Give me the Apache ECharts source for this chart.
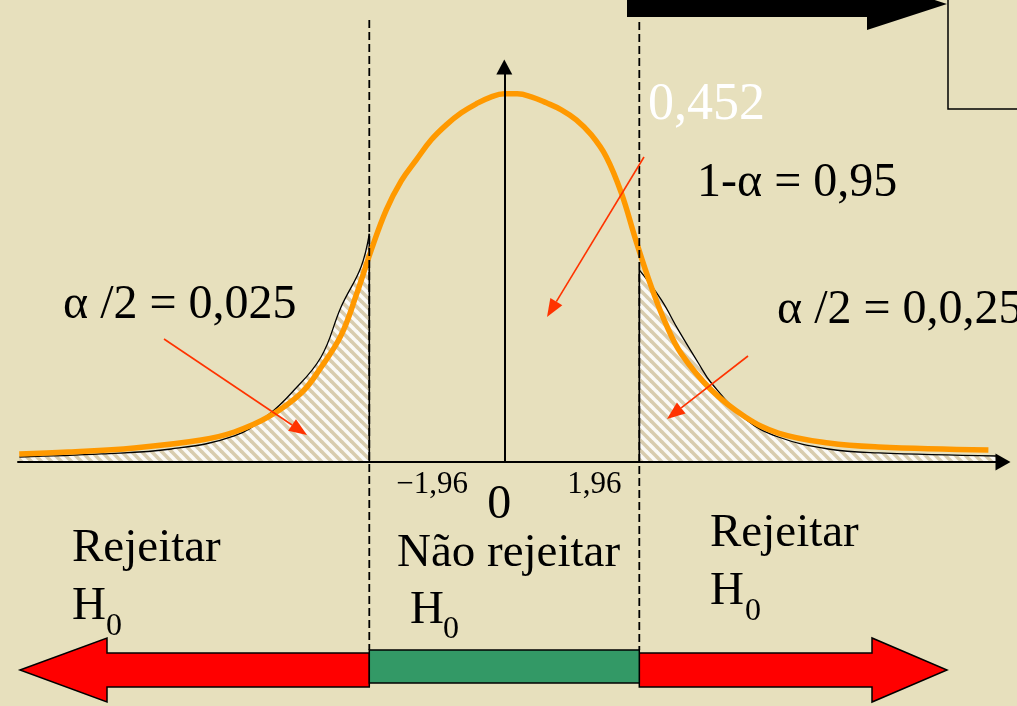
<!DOCTYPE html>
<html>
<head>
<meta charset="utf-8">
<script src="https://cdn.jsdelivr.net/npm/echarts@6/dist/echarts.min.js"></script>
<style>
  html, body { margin: 0; padding: 0; background: #e7e0bd; }
  #chart { width: 1017px; height: 706px; }
</style>
</head>
<body>
<div id="chart"></div>
<script>
// Critical values of the two-sided test (alpha = 0.05)
const Z_CRIT = [-1.96, 1.96];

// Sketched density curve (orange)
const CURVE_Z = [-7.042, -6.331, -5.372, -4.400, -3.920, -3.427, -2.948, -2.657, -2.367,
                 -2.149, -1.931, -1.713, -1.496, -1.278, -1.060, -0.842, -0.624, -0.407, -0.189, 0,
                 0.189, 0.392, 0.610, 0.828, 1.045, 1.263, 1.481, 1.699, 1.917, 2.135, 2.352, 2.570,
                 3.006, 3.499, 3.978, 4.705, 5.431, 7.028];
const CURVE_DENSITY = [0.0087, 0.0108, 0.0152, 0.0238, 0.0325, 0.0488, 0.0748, 0.1030, 0.1377,
                       0.1810, 0.2298, 0.2732, 0.3046, 0.3274, 0.3491, 0.3653, 0.3783, 0.3881, 0.3957, 0.3989,
                       0.3989, 0.3957, 0.3892, 0.3816, 0.3707, 0.3545, 0.3306, 0.2916, 0.2385, 0.1897, 0.1485, 0.1171,
                       0.0780, 0.0488, 0.0314, 0.0206, 0.0163, 0.0130];

// Rejection tails (thin black outline, hatched)
const LEFT_TAIL_Z = [-7.04, -5.85, -4.835, -3.92, -3.43, -3.09, -2.66, -2.37, -2.08, -1.96];
const LEFT_TAIL_DENSITY = [0.0054, 0.0087, 0.0141, 0.0282, 0.0509, 0.0748, 0.1138, 0.168, 0.2114, 0.2472];
const RIGHT_TAIL_Z = [1.96, 2.28, 2.526, 2.817, 3.006, 3.499, 3.978, 4.705, 5.431, 7.144];
const RIGHT_TAIL_DENSITY = [0.2081, 0.1756, 0.1431, 0.1073, 0.0856, 0.0466, 0.0271, 0.0141, 0.0098, 0.0065];

// Axis tick labels
const TICK_VALUES = [-1.96, 0, 1.96];
const TICK_LABELS = ['\u22121,96', '0', '1,96'];

// Annotation texts
const ALPHA_LEFT = '\u03b1 /2 = 0,025';
const ALPHA_RIGHT = '\u03b1 /2 = 0,0,25';
const CONF_TEXT = '1-\u03b1 = 0,95';
const PEAK_TEXT = '0,452';
const REJECT = 'Rejeitar';
const ACCEPT = 'N\u00e3o rejeitar';
const H = 'H';
const SUB = '0';

const SERIF = '"Liberation Serif", "Times New Roman", serif';
const RED = '#ff3300';

function pairs(xs, ys) { return xs.map((x, i) => [x, ys[i]]); }

// White tile with tan diagonal stripes for the tail areas
function hatchTile() {
  const c = document.createElement('canvas');
  c.width = 10; c.height = 10;
  const g = c.getContext('2d');
  g.fillStyle = '#fbfaf6';
  g.fillRect(0, 0, 10, 10);
  g.strokeStyle = '#d8ccae';
  g.lineWidth = 3.6;
  for (const o of [-10, 0, 10]) {
    g.beginPath();
    g.moveTo(o - 1, -1);
    g.lineTo(o + 11, 11);
    g.stroke();
  }
  return c;
}

const chart = echarts.init(document.getElementById('chart'), null, { renderer: 'canvas' });
const hatch = { image: hatchTile(), repeat: 'repeat' };

chart.setOption({
  backgroundColor: '#e7e0bd',
  animation: false,
  grid: { left: 18, top: 67, right: 14, bottom: 244 },
  xAxis: {
    type: 'value', min: -7.06, max: 7.24, z: 5,
    axisLine: { onZero: true, symbol: ['none', 'triangle'], symbolSize: [17, 15], lineStyle: { color: '#000', width: 2 } },
    axisTick: { show: false }, axisLabel: { show: false }, splitLine: { show: false }
  },
  yAxis: {
    type: 'value', min: 0, max: 0.428, z: 5,
    axisLine: { onZero: true, symbol: ['none', 'triangle'], symbolSize: [16, 15], lineStyle: { color: '#000', width: 2 } },
    axisTick: { show: false }, axisLabel: { show: false }, splitLine: { show: false }
  },
  series: [
    {
      type: 'line', name: 'left tail', data: pairs(LEFT_TAIL_Z, LEFT_TAIL_DENSITY),
      smooth: 0.4, symbol: 'none', z: 2,
      lineStyle: { color: '#000', width: 1.3 },
      areaStyle: { color: hatch, opacity: 1 }
    },
    {
      type: 'line', name: 'right tail', data: pairs(RIGHT_TAIL_Z, RIGHT_TAIL_DENSITY),
      smooth: 0.4, symbol: 'none', z: 2,
      lineStyle: { color: '#000', width: 1.3 },
      areaStyle: { color: hatch, opacity: 1 }
    },
    {
      type: 'line', name: 'left edge', symbol: 'none', z: 3,
      data: [[Z_CRIT[0], 0], [Z_CRIT[0], LEFT_TAIL_DENSITY[LEFT_TAIL_DENSITY.length - 1]]],
      lineStyle: { color: '#000', width: 1.6 }
    },
    {
      type: 'line', name: 'right edge', symbol: 'none', z: 3,
      data: [[Z_CRIT[1], 0], [Z_CRIT[1], RIGHT_TAIL_DENSITY[0]]],
      lineStyle: { color: '#000', width: 1.6 }
    },
    {
      type: 'line', name: 'density', data: pairs(CURVE_Z, CURVE_DENSITY),
      smooth: 0.4, symbol: 'none', z: 4,
      lineStyle: { color: '#ff9900', width: 5.5 }
    }
  ]
});

// Pixel helpers derived from the chart's own scales
const px = (z) => chart.convertToPixel({ gridIndex: 0 }, [z, 0])[0];
const baseY = chart.convertToPixel({ gridIndex: 0 }, [0, 0])[1];
const xL = px(Z_CRIT[0]);
const xR = px(Z_CRIT[1]);

function text(str, x, baseline, size, fill) {
  // 'middle' sits about 0.3375em above the alphabetic baseline for this face
  return {
    type: 'text', z: 20,
    style: { text: str, x: x, y: baseline - 0.3375 * size, font: size + 'px ' + SERIF,
             fill: fill || '#000', align: 'left', verticalAlign: 'middle' }
  };
}

function arrow(x1, y1, x2, y2, color) {
  const len = Math.hypot(x2 - x1, y2 - y1);
  const ux = (x2 - x1) / len, uy = (y2 - y1) / len;
  const L = 18, W = 7;
  const bx = x2 - ux * L, by = y2 - uy * L;
  return [
    { type: 'line', z: 15, shape: { x1: x1, y1: y1, x2: bx, y2: by }, style: { stroke: color, lineWidth: 1.6 } },
    { type: 'polygon', z: 15, shape: { points: [[x2, y2], [bx - uy * W, by + ux * W], [bx + uy * W, by - ux * W]] },
      style: { fill: color } }
  ];
}

const barTop = 653, barBot = 687, headTop = 638, headBot = 702, barMid = 670;
const tickY = baseY + 33;

const graphics = [
  // critical value guides
  { type: 'line', z: 12, shape: { x1: xL, y1: 20, x2: xL, y2: 650 }, style: { stroke: '#000', lineWidth: 1.8, lineDash: [8, 4] } },
  { type: 'line', z: 12, shape: { x1: xR, y1: 22, x2: xR, y2: 650 }, style: { stroke: '#000', lineWidth: 1.8, lineDash: [8, 4] } },

  // black pointer and frame at the top right
  { type: 'polygon', z: 12, shape: { points: [[627, -7], [867, -7], [867, -22], [947, 4], [867, 30], [867, 17], [627, 17]] },
    style: { fill: '#000' } },
  { type: 'polyline', z: 12, shape: { points: [[948, -2], [948, 109], [1020, 109]] }, style: { stroke: '#000', lineWidth: 1.5, fill: null } },

  // decision bar
  { type: 'polygon', z: 12, shape: { points: [[20, barMid], [107, headTop], [107, barTop], [xL, barTop], [xL, barBot], [107, barBot], [107, headBot]] },
    style: { fill: '#ff0000', stroke: '#000', lineWidth: 1.5 } },
  { type: 'rect', z: 13, shape: { x: xL, y: 650, width: xR - xL, height: 33 }, style: { fill: '#339966', stroke: '#000', lineWidth: 1.5 } },
  { type: 'polygon', z: 12, shape: { points: [[xR, barTop], [872, barTop], [872, headTop], [947, barMid], [872, headBot], [872, barBot], [xR, barBot]] },
    style: { fill: '#ff0000', stroke: '#000', lineWidth: 1.5 } },

  // tick labels
  text(TICK_LABELS[0], px(TICK_VALUES[0]) + 27, tickY, 31),
  text(TICK_LABELS[1], px(TICK_VALUES[1]) - 17, baseY + 60, 48),
  text(TICK_LABELS[2], px(TICK_VALUES[2]) - 72, tickY, 31),

  // annotations
  text(ALPHA_LEFT, 63, 322, 48),
  text(CONF_TEXT, 697, 200, 48),
  text(ALPHA_RIGHT, 777, 327, 48),
  text(PEAK_TEXT, 648, 123, 52, '#ffffff'),

  // regions
  text(REJECT, 72, 565, 47),
  text(H, 72, 623, 47),
  text(SUB, 106, 637, 32),
  text(ACCEPT, 397, 570, 47),
  text(H, 410, 627, 47),
  text(SUB, 443, 640, 32),
  text(REJECT, 710, 550, 47),
  text(H, 710, 608, 47),
  text(SUB, 745, 622, 32)
]
  .concat(arrow(164, 339, 307, 435, RED))
  .concat(arrow(644, 157, 547, 317, RED))
  .concat(arrow(748, 356, 667, 419, RED));

chart.setOption({ graphic: graphics });
</script>
</body>
</html>
